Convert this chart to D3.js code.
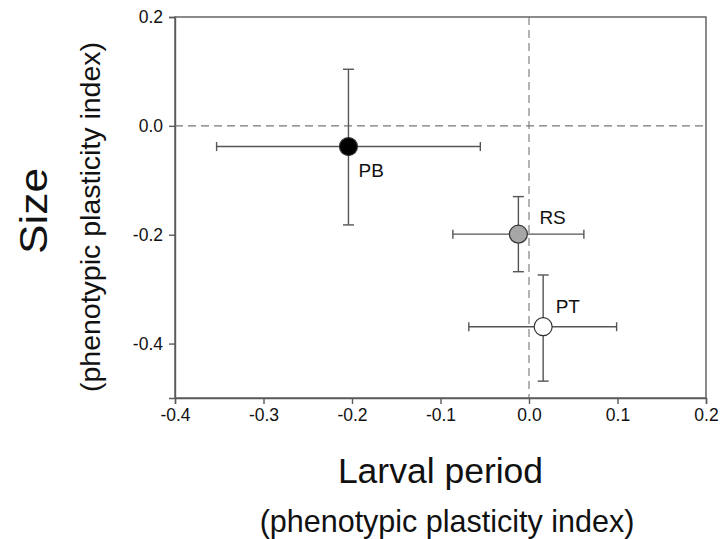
<!DOCTYPE html>
<html>
<head>
<meta charset="utf-8">
<script src="https://cdn.jsdelivr.net/npm/d3@7"></script>
<style>
body { margin: 0; background: #fff; }
text { font-family: "Liberation Sans", Arial, sans-serif; }
</style>
</head>
<body>
<div id="chart"></div>
<script>
// populations and their plasticity indices
var groups = ["PB", "RS", "PT"];
var larval = [-0.204, -0.012, 0.016];
var larvalLo = [-0.353, -0.086, -0.068];
var larvalHi = [-0.055, 0.062, 0.099];
var size = [-0.038, -0.199, -0.369];
var sizeLo = [-0.182, -0.268, -0.469];
var sizeHi = [0.104, -0.130, -0.274];
var fills = ["#000000", "#a6a6a6", "#ffffff"];
var xTicks = [-0.4, -0.3, -0.2, -0.1, 0.0, 0.1, 0.2];
var yTicks = [0.2, 0.0, -0.2, -0.4];

var data = groups.map(function(g, i) {
  return {name: g, x: larval[i], xlo: larvalLo[i], xhi: larvalHi[i],
          y: size[i], ylo: sizeLo[i], yhi: sizeHi[i], fill: fills[i]};
});

var W = 722, H = 539;
var mLeft = 175, mRight = 706, mTop = 17, mBottom = 398;

var svg = d3.select("#chart").append("svg")
  .attr("width", W).attr("height", H);

var x = d3.scaleLinear().domain([-0.4, 0.2]).range([mLeft, mRight]);
var y = d3.scaleLinear().domain([-0.5, 0.2]).range([mBottom, mTop]);

var axisColor = "#5a5a5a";
var fmt = function(d) { return d3.format(".1f")(d).replace("\u2212", "-"); };

// frame
svg.append("rect")
  .attr("x", mLeft).attr("y", mTop)
  .attr("width", mRight - mLeft).attr("height", mBottom - mTop)
  .attr("fill", "none").attr("stroke", axisColor).attr("stroke-width", 1.4);

// reference lines at zero
svg.append("line")
  .attr("x1", mLeft).attr("x2", mRight)
  .attr("y1", y(0)).attr("y2", y(0))
  .attr("stroke", "#777").attr("stroke-width", 1.1).attr("stroke-dasharray", "8,5");
svg.append("line")
  .attr("x1", x(0)).attr("x2", x(0))
  .attr("y1", mTop).attr("y2", mBottom)
  .attr("stroke", "#777").attr("stroke-width", 1.1).attr("stroke-dasharray", "8,5");

var xAxis = svg.append("g")
  .attr("transform", "translate(0," + mBottom + ")")
  .call(d3.axisBottom(x).tickValues(xTicks).tickSize(6).tickPadding(5).tickFormat(fmt));
var yAxis = svg.append("g")
  .attr("transform", "translate(" + mLeft + ",0)")
  .call(d3.axisLeft(y).tickValues(yTicks).tickSize(6).tickPadding(6).tickFormat(fmt));

[xAxis, yAxis].forEach(function(a) {
  a.attr("font-size", 17.5).attr("font-family", "Liberation Sans, Arial, sans-serif");
  a.select(".domain").attr("stroke", axisColor).attr("stroke-width", 1.4);
  a.selectAll(".tick line").attr("stroke", axisColor).attr("stroke-width", 1.4);
  a.selectAll(".tick text").attr("fill", "#111");
});

// error bars
var eb = svg.append("g").attr("stroke", "#555").attr("stroke-width", 1.4);
data.forEach(function(d) {
  eb.append("line").attr("x1", x(d.xlo)).attr("x2", x(d.xhi))
    .attr("y1", y(d.y)).attr("y2", y(d.y));
  eb.append("line").attr("x1", x(d.x)).attr("x2", x(d.x))
    .attr("y1", y(d.ylo)).attr("y2", y(d.yhi));
  [d.xlo, d.xhi].forEach(function(v) {
    eb.append("line").attr("x1", x(v)).attr("x2", x(v))
      .attr("y1", y(d.y) - 4.5).attr("y2", y(d.y) + 4.5);
  });
  [d.ylo, d.yhi].forEach(function(v) {
    eb.append("line").attr("x1", x(d.x) - 5.5).attr("x2", x(d.x) + 5.5)
      .attr("y1", y(v)).attr("y2", y(v));
  });
});

svg.selectAll(".pt")
  .data(data)
  .enter()
  .append("circle")
  .attr("class", "pt")
  .attr("cx", function(d) { return x(d.x); })
  .attr("cy", function(d) { return y(d.y); })
  .attr("r", 9)
  .attr("fill", function(d) { return d.fill; })
  .attr("stroke", "#333")
  .attr("stroke-width", 1.2);

// point labels
var labelOffsets = {PB: [10, 30], RS: [21, -10], PT: [12.5, -13.5]};
svg.selectAll(".lbl")
  .data(data)
  .enter()
  .append("text")
  .attr("class", "lbl")
  .attr("x", function(d) { return x(d.x) + labelOffsets[d.name][0]; })
  .attr("y", function(d) { return y(d.y) + labelOffsets[d.name][1]; })
  .style("font-size", "19px")
  .attr("fill", "#111")
  .text(function(d) { return d.name; });

// axis titles
svg.append("text")
  .attr("transform", "translate(47,211) rotate(-90)")
  .attr("text-anchor", "middle")
  .attr("textLength", 86)
  .attr("lengthAdjust", "spacingAndGlyphs")
  .style("font-size", "38px")
  .attr("fill", "#111")
  .text("Size");
svg.append("text")
  .attr("transform", "translate(100,217) rotate(-90)")
  .attr("text-anchor", "middle")
  .style("font-size", "28.5px")
  .attr("fill", "#111")
  .text("(phenotypic plasticity index)");
svg.append("text")
  .attr("x", 440.5).attr("y", 483)
  .attr("text-anchor", "middle")
  .style("font-size", "35.5px")
  .attr("fill", "#111")
  .text("Larval period");
svg.append("text")
  .attr("x", 447).attr("y", 532)
  .attr("text-anchor", "middle")
  .style("font-size", "30.5px")
  .attr("fill", "#111")
  .text("(phenotypic plasticity index)");
</script>
</body>
</html>
